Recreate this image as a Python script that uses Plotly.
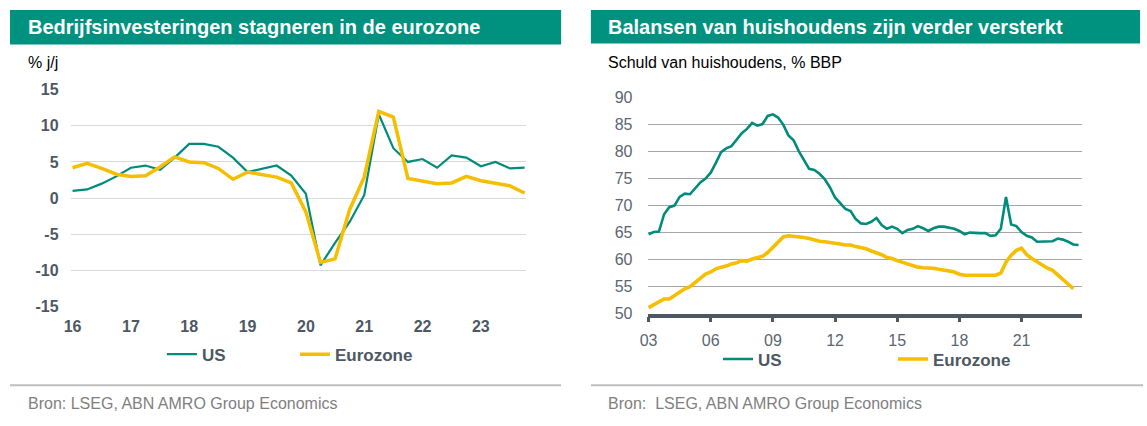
import plotly.graph_objects as go

# ---------------- data ----------------
# Left chart: business investment, % y/y, quarterly 2016Q1 .. 2023Q4
inv_start_year = 2016
us_invest = [1.0, 1.2, 2.0, 3.0, 4.2, 4.5, 3.9, 5.6,
             7.5, 7.5, 7.1, 5.6, 3.6, 4.1, 4.5, 3.1,
             0.6, -9.3, -6.2, -3.3, 0.4, 11.6, 6.9, 5.0,
             5.4, 4.2, 5.9, 5.6, 4.4, 5.0, 4.1, 4.2]
ez_invest = [4.2, 4.8, 4.1, 3.3, 3.0, 3.1, 4.3, 5.7,
             5.0, 4.9, 4.1, 2.6, 3.6, 3.2, 2.9, 2.1,
             -1.9, -8.9, -8.4, -1.6, 2.9, 12.0, 11.2, 2.7,
             2.4, 2.0, 2.1, 3.0, 2.4, 2.0, 1.7, 0.7]
left_ticks = [2016, 2017, 2018, 2019, 2020, 2021, 2022, 2023]
left_ticktext = ["16", "17", "18", "19", "20", "21", "22", "23"]
left_yticks = [-15, -10, -5, 0, 5, 10, 15]
left_yticktext = ["-15", "-10", "-5", "0", "5", "10", "15"]

# Right chart: household debt, % GDP, quarterly from 2003Q1
debt_start_year = 2003
us_debt = [64.7, 65.1, 65.2, 68.4, 69.7, 70.0, 71.6, 72.2,
           72.1, 73.3, 74.3, 75.0, 76.1, 77.9, 79.9, 80.6,
           81.0, 82.2, 83.4, 84.2, 85.3, 84.8, 85.1, 86.6,
           86.9, 86.3, 85.0, 83.0, 82.1, 80.1, 78.4, 76.8,
           76.6, 75.9, 74.9, 73.4, 71.5, 70.4, 69.4, 69.0,
           67.5, 66.7, 66.6, 67.0, 67.7, 66.4, 65.7, 66.1,
           65.7, 64.9, 65.5, 65.7, 66.2, 65.8, 65.3, 65.8,
           66.1, 66.1, 65.9, 65.7, 65.3, 64.7, 65.0, 64.9,
           64.9, 64.9, 64.4, 64.5, 65.7, 71.6, 66.5, 66.2,
           65.1, 64.4, 64.1, 63.3, 63.3, 63.3, 63.4, 63.9,
           63.7, 63.3, 62.8, 62.7]
ez_debt = [51.1, 51.6, 52.1, 52.7, 52.7, 53.4, 54.0, 54.6,
           55.0, 55.8, 56.6, 57.3, 57.7, 58.3, 58.6, 58.8,
           59.2, 59.4, 59.8, 59.7, 60.1, 60.3, 60.6, 61.3,
           62.2, 63.3, 64.2, 64.4, 64.3, 64.3, 64.1, 63.9,
           63.6, 63.4, 63.3, 63.2, 63.0, 62.9, 62.7, 62.7,
           62.4, 62.2, 62.0, 61.6, 61.3, 60.9, 60.4, 60.2,
           59.8, 59.5, 59.2, 58.9, 58.6, 58.5, 58.5, 58.4,
           58.2, 58.1, 57.9, 57.7, 57.3, 57.1, 57.1, 57.1,
           57.0, 57.1, 57.1, 57.1, 57.5, 59.5, 60.8, 61.7,
           62.1, 60.9, 60.2, 59.6, 58.9, 58.4, 58.0, 57.2,
           56.2, 55.4, 54.6]
right_ticks = [2003, 2006, 2009, 2012, 2015, 2018, 2021]
right_ticktext = ["03", "06", "09", "12", "15", "18", "21"]
right_yticks = [50, 55, 60, 65, 70, 75, 80, 85, 90]

# ---------------- styling ----------------
W, H = 1147, 426
def fx(x): return x / W
def fy(y): return 1 - y / H

FONT = "Liberation Sans, Arial, sans-serif"
BANNER = "#00917F"
TEAL = "#008C7B"
YELLOW = "#F5BE00"
AXIS = "#4D5863"
TICKC = "#4D5863"

def quarters(start, n):
    return [start + i / 4 for i in range(n)]

fig = go.Figure()
fig.add_trace(go.Scatter(x=quarters(inv_start_year, len(us_invest)), y=us_invest, name="US",
                         mode="lines", line=dict(color=TEAL, width=2.2),
                         xaxis="x", yaxis="y", legend="legend"))
fig.add_trace(go.Scatter(x=quarters(inv_start_year, len(ez_invest)), y=ez_invest, name="Eurozone",
                         mode="lines", line=dict(color=YELLOW, width=3.5),
                         xaxis="x", yaxis="y", legend="legend"))
fig.add_trace(go.Scatter(x=quarters(debt_start_year, len(us_debt)), y=us_debt, name="US",
                         mode="lines", line=dict(color=TEAL, width=2.6),
                         xaxis="x2", yaxis="y2", legend="legend2"))
fig.add_trace(go.Scatter(x=quarters(debt_start_year, len(ez_debt)), y=ez_debt, name="Eurozone",
                         mode="lines", line=dict(color=YELLOW, width=3.6),
                         xaxis="x2", yaxis="y2", legend="legend2"))

left_xdom = [fx(63), fx(522)]
left_ydom = [fy(311), fy(85)]
left_xrange = [2015.966, 2023.78]
right_xdom = [fx(644), fx(1082)]
right_ydom = [fy(318.3), fy(93.3)]
right_xrange = [2002.95, 2023.94]

tickfont_bold = dict(family=FONT, size=16, color=TICKC, weight="bold")
tickfont_reg = dict(family=FONT, size=16, color="#5A6671")

fig.update_layout(
    width=W, height=H,
    margin=dict(l=0, r=0, t=0, b=0),
    paper_bgcolor="white", plot_bgcolor="white",
    font=dict(family=FONT),
    xaxis=dict(domain=left_xdom, anchor="y", range=left_xrange, tickvals=left_ticks,
               ticktext=left_ticktext, showgrid=False, zeroline=False, showline=False,
               ticks="", tickfont=tickfont_bold, ticklabelstandoff=8),
    xaxis3=dict(overlaying="x", anchor="free", position=(left_ydom[0] + left_ydom[1]) / 2,
                range=left_xrange, tickvals=left_ticks, showticklabels=False,
                showgrid=False, zeroline=False, showline=True, linecolor=AXIS, linewidth=4,
                ticks="outside", ticklen=5, tickwidth=2.5, tickcolor=AXIS, layer="below traces"),
    yaxis=dict(domain=left_ydom, anchor="x", range=[-15, 15], tickvals=left_yticks,
               ticktext=left_yticktext,
               showgrid=True, gridcolor="#D9D9D9", gridwidth=1.2, zeroline=False,
               showline=False, ticks="", tickfont=tickfont_bold, ticklabelstandoff=11),
    xaxis2=dict(domain=right_xdom, anchor="y2", range=right_xrange, tickvals=right_ticks,
                ticktext=right_ticktext, showgrid=False, zeroline=False, showline=True,
                linecolor=AXIS, linewidth=3.5, ticks="outside", ticklen=5, tickwidth=2.5,
                tickcolor=AXIS, tickfont=tickfont_reg, ticklabelstandoff=4),
    yaxis2=dict(domain=right_ydom, anchor="x2", range=[50, 90], tickvals=right_yticks,
                showgrid=True, gridcolor="#A6A6A6", gridwidth=1.2, zeroline=False,
                showline=False, ticks="", tickfont=tickfont_reg, ticklabelstandoff=14),
    legend=dict(orientation="h", x=fx(155), y=fy(361), xanchor="left", yanchor="middle",
                entrywidth=88, entrywidthmode="pixels", bgcolor="rgba(0,0,0,0)",
                font=dict(family=FONT, size=17, color=AXIS, weight="bold")),
    legend2=dict(orientation="h", x=fx(715), y=fy(366), xanchor="left", yanchor="middle",
                 entrywidth=130, entrywidthmode="pixels", bgcolor="rgba(0,0,0,0)",
                 font=dict(family=FONT, size=17, color=AXIS, weight="bold")),
    showlegend=True,
)

shapes = [
    dict(type="rect", xref="paper", yref="paper", x0=fx(2), x1=fx(557), y0=fy(38), y1=fy(2),
         fillcolor=BANNER, line=dict(width=0), layer="below"),
    dict(type="rect", xref="paper", yref="paper", x0=fx(587), x1=fx(1140), y0=fy(37), y1=fy(2),
         fillcolor=BANNER, line=dict(width=0), layer="below"),
    dict(type="line", xref="paper", yref="paper", x0=fx(2), x1=fx(557), y0=fy(393), y1=fy(393),
         line=dict(color="#BFBFBF", width=2)),
    dict(type="line", xref="paper", yref="paper", x0=fx(587), x1=fx(1143), y0=fy(393), y1=fy(393),
         line=dict(color="#BFBFBF", width=2)),
]
fig.update_layout(shapes=shapes)

def ann(text, x, y, size, color, bold=False):
    return dict(text=text, xref="paper", yref="paper", x=fx(x), y=fy(y), xanchor="left",
                yanchor="middle", showarrow=False,
                font=dict(family=FONT, size=size, color=color, weight="bold" if bold else "normal"))

fig.update_layout(annotations=[
    ann("Bedrijfsinvesteringen stagneren in de eurozone", 18, 20, 20, "white", True),
    ann("Balansen van huishoudens zijn verder versterkt", 602, 20, 20, "white", True),
    ann("% j/j", 18, 57, 16, "black"),
    ann("Schuld van huishoudens, % BBP", 602, 57, 16, "black"),
    ann("Bron: LSEG, ABN AMRO Group Economics", 18, 412, 16, "#7F7F7F"),
    ann("Bron:  LSEG, ABN AMRO Group Economics", 602, 412, 16, "#7F7F7F"),
])

fig.write_html(
    "out.html",
    config={"displayModeBar": False},
    post_script=(
        "document.body.style.margin='0';document.body.style.padding='0';"
        "document.documentElement.style.overflow='hidden';"
    ),
)
